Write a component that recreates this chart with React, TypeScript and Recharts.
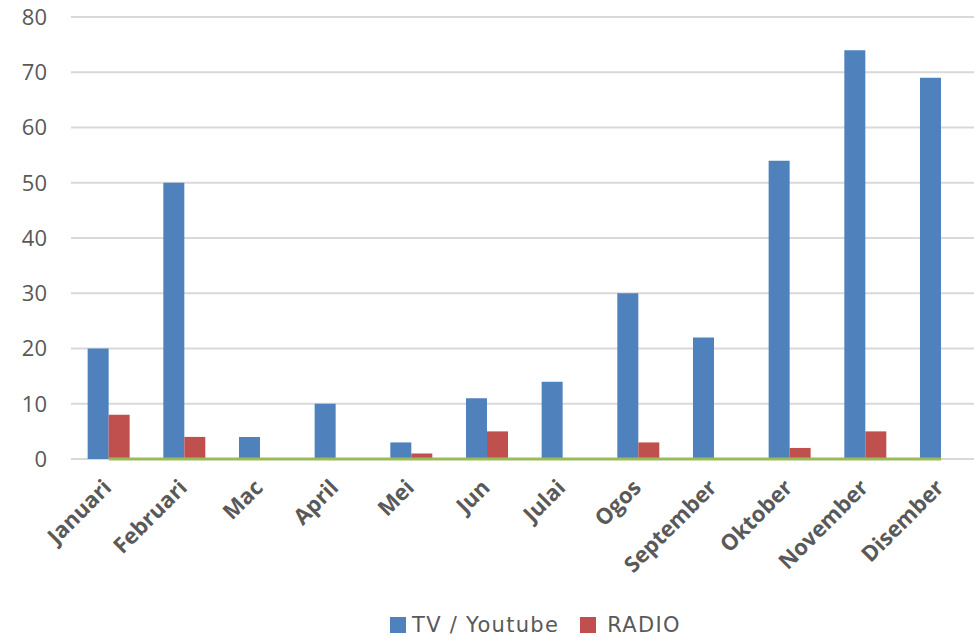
import React from 'react'
import { Bar, Line, ComposedChart, XAxis, YAxis, CartesianGrid, Legend } from 'recharts'

const months = [
  'Januari', 'Februari', 'Mac', 'April', 'Mei', 'Jun',
  'Julai', 'Ogos', 'September', 'Oktober', 'November', 'Disember',
]
const tvYoutube = [20, 50, 4, 10, 3, 11, 14, 30, 22, 54, 74, 69]
const radio = [8, 4, 0, 0, 1, 5, 0, 3, 0, 2, 5, 0]
const baseline = [0, 0, 0, 0, 0, 0, 0, 0, 0, 0, 0, 0]
const yTicks = [0, 10, 20, 30, 40, 50, 60, 70, 80]

const colors = {
  tv: '#4F81BD',
  radio: '#C0504D',
  base: '#9BBB59',
  grid: '#D9D9D9',
  text: '#595959',
}

const data = months.map((m, i) => ({
  month: m,
  tv: tvYoutube[i],
  radio: radio[i],
  base: baseline[i],
}))

function MonthTick({ x, y, payload }: any) {
  const ax = x + 4
  const ay = y + 22
  return (
    <text
      x={ax}
      y={ay}
      transform={`rotate(-45, ${ax}, ${ay})`}
      textAnchor="end"
      fill={colors.text}
      fontSize={22}
      fontWeight={700}
      fontFamily="Open Sans"
    >
      {payload.value}
    </text>
  )
}

function ChartLegend() {
  const item = (color: string, label: string, gap: number) => (
    <div style={{ display: 'flex', alignItems: 'center', marginRight: 21 }}>
      <span style={{ width: 16, height: 16, background: color, display: 'inline-block', marginRight: gap }} />
      <span style={{ fontSize: 21, lineHeight: '24px', color: colors.text, letterSpacing: 1.3 }}>{label}</span>
    </div>
  )
  return (
    <div
      style={{
        height: 40,
        boxSizing: 'border-box',
        paddingTop: 13,
        display: 'flex',
        alignItems: 'center',
        paddingLeft: 390,
        fontFamily: '"DejaVu Sans", sans-serif',
      }}
    >
      {item(colors.tv, 'TV / Youtube', 6)}
      {item(colors.radio, 'RADIO', 11)}
    </div>
  )
}

export default function App() {
  return (
    <div style={{ position: 'absolute', left: 0, top: 0, width: 974, height: 638, overflow: 'hidden', background: '#fff' }}>
      <ComposedChart
        width={979}
        height={638}
        data={data}
        margin={{ top: 17, right: 0, left: 0, bottom: 0 }}
        barCategoryGap="22%"
        barGap={0}
      >
        <CartesianGrid vertical={false} stroke={colors.grid} strokeWidth={2} />
        <XAxis
          dataKey="month"
          tick={<MonthTick />}
          tickLine={false}
          axisLine={false}
          interval={0}
          height={139}
        />
        <YAxis
          domain={[0, 80]}
          ticks={yTicks}
          width={71}
          tickLine={false}
          axisLine={false}
          tickMargin={18}
          tick={{ fill: colors.text, fontSize: 22, fontFamily: 'Open Sans' }}
        />
        <Legend verticalAlign="bottom" content={<ChartLegend />} />
        <Bar dataKey="tv" name="TV / Youtube" fill={colors.tv} isAnimationActive={false} />
        <Bar dataKey="radio" name="RADIO" fill={colors.radio} isAnimationActive={false} />
        <Line
          dataKey="base"
          stroke={colors.base}
          strokeWidth={3}
          dot={false}
          legendType="none"
          isAnimationActive={false}
        />
      </ComposedChart>
    </div>
  )
}
